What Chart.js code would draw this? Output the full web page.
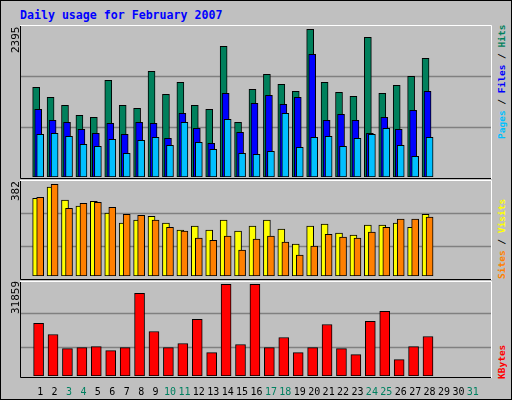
<!DOCTYPE html>
<html><head><meta charset="utf-8">
<script src="https://cdn.jsdelivr.net/npm/chart.js@4"></script>
<style>
body{margin:0;background:#fff}
#w{position:relative;width:510px;height:398px;background:#c0c0c0;border:1px solid #000;overflow:hidden;font-family:"DejaVu Sans Mono",monospace}
canvas{position:absolute;left:19px}
.r{position:absolute;transform-origin:0 0;transform:rotate(-90deg);white-space:nowrap;font-size:9.5px;line-height:9px}
</style></head><body>
<div id="w">
<div style="position:absolute;left:19px;top:7px;color:#0000ff;font-weight:bold;font-size:11.6px">Daily usage for February 2007</div>
<canvas id="c1" width="472" height="154" style="top:24px"></canvas>
<canvas id="c2" width="472" height="100" style="top:179px"></canvas>
<canvas id="c3" width="472" height="119" style="top:280px"></canvas>
<div class="r" style="left:10px;top:52px;font-size:11px;line-height:10px">2395</div>
<div class="r" style="left:10px;top:200px;font-size:11px;line-height:10px">382</div>
<div class="r" style="left:10px;top:313px;font-size:11px;line-height:10px">31859</div>
<div class="r" style="left:496px;top:138px;font-weight:bold"><span style="color:#00c0ff">Pages</span> / <span style="color:#0000ff">Files</span> / <span style="color:#00805c">Hits</span></div>
<div class="r" style="left:496px;top:278px;font-weight:bold"><span style="color:#ff8000">Sites</span> / <span style="color:#ffff00">Visits</span></div>
<div class="r" style="left:496px;top:378px;font-weight:bold;color:#ff0000">KBytes</div>
</div>
<script>
const days = Array.from({length:31},(_, i)=>String(i+1));
const weekend = [3,4,10,11,17,18,24,25,31];
const hits = [1454,1292,1162,1000,968,1567,1162,1114,1713,1340,1535,1162,1097,2119,887,1422,1665,1503,1389,2395,1535,1373,1308,2265,1357,1486,1632,1924];
const files = [1097,919,887,773,708,870,692,887,870,627,1033,789,546,1357,725,1195,1324,1178,1292,1989,919,1016,919,708,968,773,1081,1389];
const pages = [692,708,660,530,498,611,384,595,644,514,887,562,449,935,384,368,417,1033,481,644,660,498,627,692,789,514,336,644];
const visits = [324,370,316,291,311,262,220,233,249,220,191,208,191,233,187,208,233,195,133,208,216,179,170,212,212,220,203,257];
const sites = [328,382,282,303,307,286,257,253,233,203,187,158,149,166,108,154,166,141,87,125,174,162,158,183,203,237,237,245];
const kbytes = [18259,14421,9537,9885,10234,8839,9885,28726,15468,9885,11281,19655,8141,31859,10932,31859,9885,13375,8141,9885,17910,9537,7443,18957,22446,5699,10234,13723];

const pts=(arr,off)=>arr.map((v,i)=>({x:i+1+off,y:v}));
const frame={id:'frame',
 beforeDatasetsDraw(c,a,o){const x=c.ctx,s=c.scales.y,A=c.chartArea;
  x.save();x.strokeStyle='#808080';x.lineWidth=1.5;
  o.grid.forEach(v=>{const y=Math.round(s.getPixelForValue(v))+0.5;x.beginPath();x.moveTo(A.left,y);x.lineTo(A.right,y);x.stroke();});
  x.restore();},
 afterDatasetsDraw(c,a,o){const x=c.ctx,w=c.width,h=o.h;x.save();x.lineWidth=1;
  x.strokeStyle='#000';x.beginPath();x.moveTo(0.5,0);x.lineTo(0.5,h-0.5);x.lineTo(w,h-0.5);x.stroke();
  x.strokeStyle='#fff';x.beginPath();x.moveTo(0,0.5);x.lineTo(w-0.5,0.5);x.lineTo(w-0.5,h);x.stroke();x.restore();}};
function mk(id,ds,max,grid,pb,h,showX){
 return new Chart(document.getElementById(id),{type:'bar',data:{datasets:ds},plugins:[frame],
  options:{responsive:false,animation:false,devicePixelRatio:1,layout:{padding:{bottom:pb}},
   plugins:{legend:{display:false},tooltip:{enabled:false},frame:{grid,h}},
   datasets:{bar:{grouped:false,borderColor:'#000',borderWidth:1,borderSkipped:false}},
   scales:{y:{display:false,min:0,max},
    x:{type:'linear',min:0.128,max:31.8,display:showX,grid:{display:false},border:{display:false},
     afterBuildTicks:s=>{s.ticks=days.map(d=>({value:+d}));},
     afterFit:s=>{s.height=showX?24:0;},
     ticks:{autoSkip:false,maxRotation:0,padding:2,font:{family:'DejaVu Sans Mono',size:10},
      color:c=>weekend.includes(c.tick.value)?'#008060':'#000',callback:v=>days[v-1]}}}}});
}
mk('c1',[
 {data:pts(pages,0),backgroundColor:'#00c0ff',barThickness:7},
 {data:pts(files,-0.14),backgroundColor:'#0000ff',barThickness:7},
 {data:pts(hits,-0.28),backgroundColor:'#00805c',barThickness:7}],2464,[817,1631],2,154,false);
mk('c2',[
 {data:pts(sites,0),backgroundColor:'#ff8000',barThickness:7},
 {data:pts(visits,-0.28),backgroundColor:'#ffff00',barThickness:7}],400,[125,262],4,100,false);
mk('c3',[
 {data:pts(kbytes,-0.11),backgroundColor:'#ff0000',barThickness:10}],33010,[10250,21750],0,97,true);
</script></body></html>
